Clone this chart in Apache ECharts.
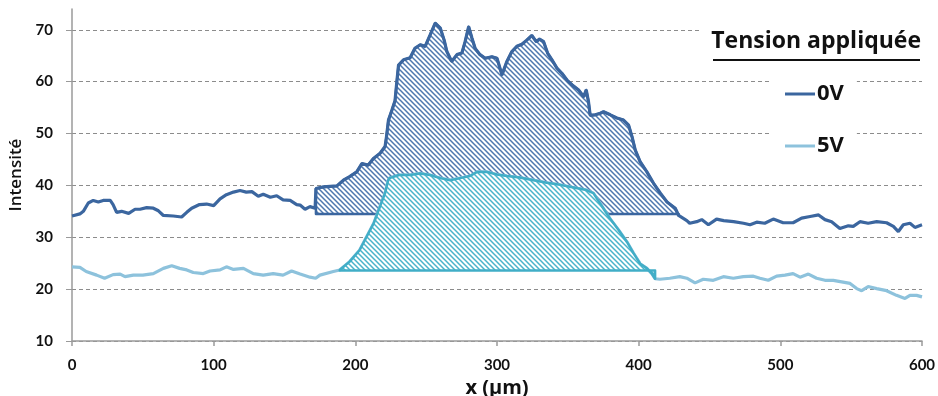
<!DOCTYPE html>
<html>
<head>
<meta charset="utf-8">
<script src="https://cdn.jsdelivr.net/npm/echarts@6/dist/echarts.min.js"></script>
<style>
  html, body { margin: 0; padding: 0; background: #fff; }
  #chart { width: 938px; height: 396px; }
</style>
</head>
<body>
<div id="chart"></div>
<script>
// profils d'intensité : [x (µm), intensité]
var line0V = [
  [0,34.1],[5.6,34.5],[8,35],[11.5,36.6],[15,37.1],[18.6,36.8],[22,37.1],[27,37.1],[29,36.3],[31.5,34.8],
  [35,35],[40,34.6],[44.5,35.4],[48,35.4],[52.7,35.7],[57.4,35.6],[61,35.1],[64.5,34.2],[71.5,34.1],[77.4,33.9],
  [81,34.8],[84.5,35.6],[90,36.3],[95,36.4],[100,36.1],[104.5,37.4],[109,38.2],[114,38.7],[118.6,39],[123,38.7],
  [127,38.8],[131.5,37.9],[135,38.3],[140,37.7],[144.5,38],[149,37.2],[154,37.1],[158.6,36.3],[161,36.2],[164.5,35.4],
  [168,35.9],[171.6,35.6],
  [172.2,39.4],[177.5,39.7],[187,39.9],[191.6,41],[196,41.7],[201,42.6],[204.6,44.2],[209,43.9],[212.8,45.2],
  [217.5,46.2],[221,47.5],[222,49.4],[223.4,52.6],[225.8,54.5],[228,56.3],[229.3,60],[230.5,63.2],[234,64.2],
  [238.7,64.6],[242,66.4],[245.8,67.1],[249.3,66.8],[252.8,69],[256.4,71.3],[260,70.3],[262.7,68],[264.6,65.8],
  [268,63.9],[271.7,65.2],[275.2,65.5],[277.5,67.7],[280,70.6],[282.3,68.4],[284.6,66.4],[288,65.2],[291.7,64.5],
  [296.4,64.8],[300,64.5],[303.5,61.3],[307,63.9],[310.5,65.8],[314,66.8],[317.6,67.2],[321,68],[324.6,68.9],
  [327.7,67.7],[330,68.2],[332.9,67.7],[335.7,65.5],[338.8,64.2],[342.3,62.6],[345.8,61.6],[349.4,60.3],[352.9,59.4],
  [357.6,58.4],[361.2,57.1],[363,58.4],[364.6,56.1],[365.8,53.5],[369.4,53.6],[372.9,53.9],[375.2,54.2],[380,53.6],
  [384.6,53],[389.3,52.6],[392.9,51.6],[395.3,49.4],[397.6,46.8],[401,44.6],[405.8,42.6],[410.5,40.4],[415.3,38.5],
  [420,36.8],[425.8,35.6],[428.2,34.2],
  [434,33.2],[436,32.7],[441,33],[444.5,33.4],[449.2,32.4],[455,33.5],[460,33.2],[467,33],[474,32.7],[478.6,32.4],
  [483.3,32.9],[489,32.7],[495,33.5],[502,32.8],[509,32.8],[515,33.7],[521,34],[527,34.3],[531.5,33.4],[536.2,33],
  [542,31.7],[548,32.2],[551.5,32.1],[556.2,33],[562,32.7],[568,33],[575,32.8],[579.8,32.1],[583.3,31.1],[586.8,32.4],
  [591.5,32.7],[595,31.9],[600,32.4]
];
var line5V = [
  [0,24.3],[5.6,24.2],[10,23.4],[17.4,22.7],[23,22.1],[29,22.8],[34,22.9],[37.4,22.4],[43.3,22.7],[50,22.7],
  [57.4,23],[64.5,24],[70.4,24.5],[76,24],[81,23.7],[85.6,23.2],[92.7,23],[97.4,23.5],[104.5,23.7],[109,24.3],
  [114,23.8],[121,24],[128,23],[135,22.7],[142,23],[149,22.7],[155,23.5],[161,22.9],[168,22.3],[172,22.1],
  [175,22.7],[184.5,23.4],
  [189,23.7],[196,25.3],[203,27.5],[208,30.1],[213,32.7],[217.4,35.9],[221,38.5],[223,40.8],[224,41.4],[231,42],
  [238.6,42],[245.6,42.3],[252.7,42],[259.8,41.4],[267,41],[274,41.4],[281,41.8],[286,42.6],[292.7,42.6],[299.8,42.1],
  [307,41.8],[316,41.5],[325.6,41],[335,40.5],[344.5,40.1],[354,39.6],[363,39.1],[368,38.5],[375.2,35.5],[380,33.5],
  [385.8,31.4],[391.7,29.1],[396.4,26.9],[401,24.9],[405.8,24],[409.3,23],[411.6,22],
  [415,21.9],[422,22.1],[429,22.4],[434,22.1],[439.8,21.2],[445.6,21.9],[452.7,21.7],[459.8,22.4],[466.8,22.1],
  [473.9,22.4],[481,22.5],[485.6,22.1],[491.5,21.7],[497.4,22.5],[503.3,22.7],[509,23],[513.9,22.3],[519.8,22.9],
  [525.6,22.1],[531.5,21.7],[537.4,21.7],[543.3,21.4],[549.2,21.1],[553.9,20.1],[557.4,19.7],[562,20.5],[568,20.1],
  [575,19.7],[582,18.8],[588,18.2],[591.5,18.8],[596.2,18.8],[600,18.5]
];
// zones hachurées : [début x, fin x], niveau de base
var zone0V = [172.2, 428.2];
var base0V = 34.5;
var zone5V = [189, 411.6];
var base5V = 23.6;

var seriesNames = ['0V', '5V'];
var xTicks = [0, 100, 200, 300, 400, 500, 600];

var C_0V = '#3B669F';
var C_5V = '#8DC2DC';
var C_5V_ZONE = '#41AEC7';
var FONT = 'Lato';
var FONT2 = '"Open Sans"';

// motif de hachures diagonales
function hatch(color) {
  var s = 5;
  var c = document.createElement('canvas');
  c.width = s; c.height = s;
  var ctx = c.getContext('2d');
  ctx.fillStyle = '#fff';
  ctx.fillRect(0, 0, s, s);
  ctx.strokeStyle = color;
  ctx.lineWidth = 1.5;
  ctx.beginPath();
  ctx.moveTo(-1, -1); ctx.lineTo(s + 1, s + 1);
  ctx.moveTo(s - 1, -1); ctx.lineTo(s + 1, 1);
  ctx.moveTo(-1, s - 1); ctx.lineTo(1, s + 1);
  ctx.stroke();
  return c;
}

function zoneSeries(line, range, base, stroke, fillColor, z) {
  var pts = line.filter(function (p) { return p[0] >= range[0] && p[0] <= range[1]; });
  var pattern = hatch(fillColor);
  return {
    type: 'custom',
    z: z,
    silent: true,
    data: pts,
    renderItem: function (params, api) {
      if (params.dataIndex !== 0) return null;
      var poly = pts.map(function (p) { return api.coord(p); });
      poly.push(api.coord([pts[pts.length - 1][0], base]));
      poly.push(api.coord([pts[0][0], base]));
      return {
        type: 'polygon',
        shape: { points: poly },
        style: { fill: { image: pattern, repeat: 'repeat' }, stroke: stroke, lineWidth: 2.5, lineJoin: 'round' }
      };
    }
  };
}

var chart = echarts.init(document.getElementById('chart'));
chart.setOption({
  animation: false,
  grid: { left: 72, right: 16, top: 9, bottom: 55, containLabel: false, outerBoundsMode: 'none' },
  xAxis: {
    type: 'value', min: 0, max: 600, interval: 100,
    name: 'x (µm)', nameLocation: 'middle', nameGap: 32,
    nameTextStyle: { fontFamily: FONT2, fontSize: 20, fontWeight: 'bold', color: '#111' },
    axisLine: { lineStyle: { color: '#9A9A9A', width: 1.5 } },
    axisTick: { show: true, length: 5, lineStyle: { color: '#9A9A9A', width: 1.5 } },
    axisLabel: {
      margin: 17, fontFamily: FONT, fontSize: 15, fontWeight: 'bold', color: '#111',
      formatter: function (v) { return xTicks.indexOf(v) >= 0 ? String(v) : ''; }
    },
    splitLine: { show: false }
  },
  yAxis: {
    type: 'value', min: 10, max: 74, interval: 10,
    name: 'Intensité', nameLocation: 'middle', nameGap: 45,
    nameTextStyle: { fontFamily: FONT2, fontSize: 17, fontWeight: 600, color: '#111' },
    axisLine: { show: true, lineStyle: { color: '#9A9A9A', width: 1.5 } },
    axisTick: { show: true, length: 6, lineStyle: { color: '#9A9A9A' } },
    axisLabel: { margin: 19, fontFamily: FONT, fontSize: 15, fontWeight: 'bold', color: '#111', showMaxLabel: false },
    splitLine: { show: true, showMaxLine: false, lineStyle: { color: '#8C8C8C', type: [4, 3], width: 1 } }
  },
  legend: {
    data: seriesNames,
    orient: 'vertical',
    left: 770, top: 71,
    padding: [12, 13, 12, 15],
    itemGap: 30,
    itemWidth: 30, itemHeight: 3,
    icon: 'rect',
    backgroundColor: '#fff',
    textStyle: { fontFamily: FONT2, fontSize: 22, fontWeight: 'bold', color: '#111', padding: [0, 0, 0, -3] }
  },
  graphic: [
    { type: 'rect', left: 702, top: 20, shape: { width: 236, height: 46 }, style: { fill: '#fff' }, z: 50 },
    { type: 'text', right: 17, top: 30, z: 51,
      style: { text: 'Tension appliquée', font: 'bold 23px ' + FONT2, fill: '#111' } },
    { type: 'rect', left: 713, top: 59, shape: { width: 207, height: 2 }, style: { fill: '#111' }, z: 51 }
  ],
  series: [
    zoneSeries(line0V, zone0V, base0V, C_0V, '#4D78AF', 2),
    {
      name: seriesNames[0], type: 'line', data: line0V, z: 3,
      showSymbol: false, symbol: 'none', smooth: false,
      lineStyle: { color: C_0V, width: 3.2 }, itemStyle: { color: C_0V }
    },
    {
      name: seriesNames[1], type: 'line', data: line5V, z: 4,
      showSymbol: false, symbol: 'none', smooth: false,
      lineStyle: { color: C_5V, width: 3.2 }, itemStyle: { color: C_5V }
    },
    zoneSeries(line5V, zone5V, base5V, C_5V_ZONE, '#49B3CA', 5)
  ]
});
</script>
</body>
</html>
